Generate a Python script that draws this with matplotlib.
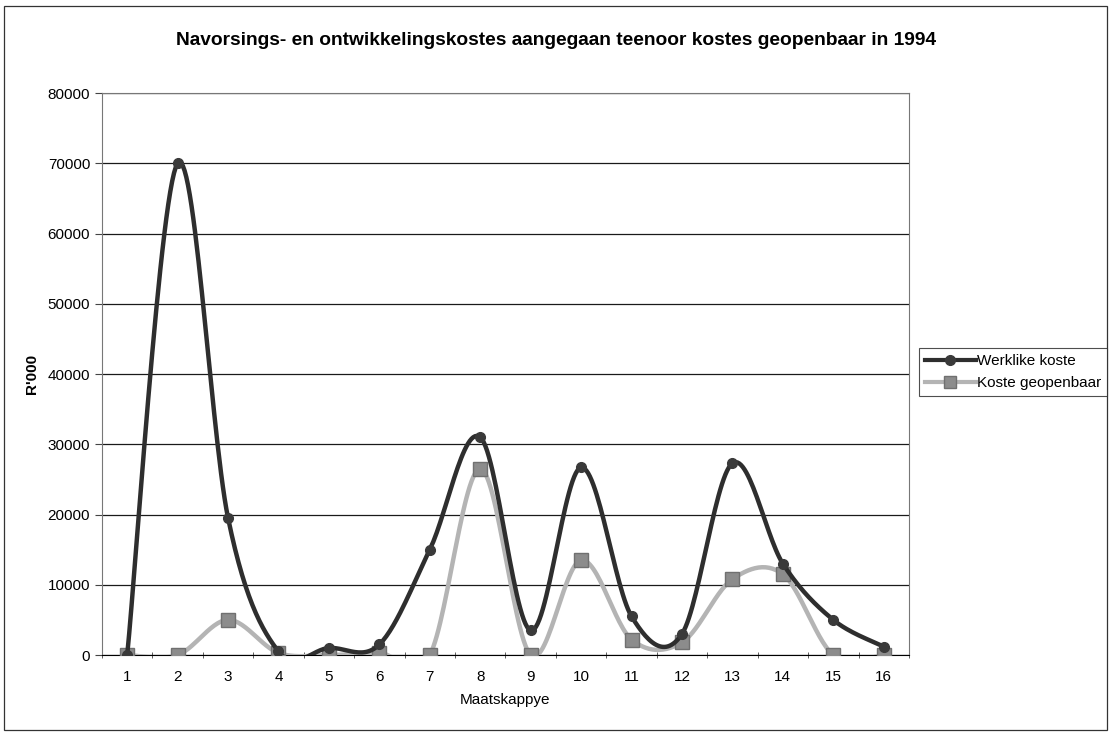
import numpy as np
import matplotlib
matplotlib.use("Agg")
import matplotlib.pyplot as plt
from matplotlib.patches import Rectangle

plt.rcParams['font.family'] = ['Liberation Sans', 'DejaVu Sans']

# data
maatskappye = list(range(1, 17))
werklike_koste = [0, 70000, 19500, 500, 1000, 1500, 15000, 31000,
                  3500, 26700, 5500, 3000, 27300, 13000, 5000, 1200]
koste_geopenbaar = [0, 0, 5000, 300, 0, 300, 0, 26500,
                    0, 13500, 2200, 1800, 10800, 11500, 0, 0]


def smooth(x, y, n=30):
    # Catmull-Rom style smoothing like Excel's smoothed lines
    x = np.asarray(x, float)
    y = np.asarray(y, float)
    px = np.concatenate([[x[0]], x, [x[-1]]])
    py = np.concatenate([[y[0]], y, [y[-1]]])
    xs, ys = [], []
    t = np.linspace(0, 1, n)
    for i in range(1, len(px) - 2):
        p0, p1, p2, p3 = py[i - 1], py[i], py[i + 1], py[i + 2]
        q0, q1, q2, q3 = px[i - 1], px[i], px[i + 1], px[i + 2]
        # bezier control points
        c1y = p1 + (p2 - p0) / 6
        c2y = p2 - (p3 - p1) / 6
        c1x = q1 + (q2 - q0) / 6
        c2x = q2 - (q3 - q1) / 6
        bx = (1 - t) ** 3 * q1 + 3 * (1 - t) ** 2 * t * c1x + 3 * (1 - t) * t ** 2 * c2x + t ** 3 * q2
        by = (1 - t) ** 3 * p1 + 3 * (1 - t) ** 2 * t * c1y + 3 * (1 - t) * t ** 2 * c2y + t ** 3 * p2
        xs.extend(bx)
        ys.extend(by)
    return np.array(xs), np.array(ys)


fig = plt.figure(figsize=(11.12, 7.33), dpi=100)
ax = fig.add_axes([0.0917, 0.1064, 0.7257, 0.7667])

# outer chart border
fig.patches.append(Rectangle((0.0036, 0.004), 0.992, 0.988, transform=fig.transFigure,
                             fill=False, edgecolor='#333333', linewidth=0.9))

ax.set_ylim(0, 80000)
ax.set_xlim(0.5, 16.5)
ax.set_yticks(range(0, 80001, 10000))
ax.yaxis.grid(True, color='#1a1a1a', linewidth=0.9)
ax.set_axisbelow(True)

sx, sy = smooth(maatskappye, koste_geopenbaar)
ax.plot(sx, sy, color='#b4b4b4', linewidth=3.2, solid_capstyle='round', zorder=3)
ax.plot(maatskappye, koste_geopenbaar, linestyle='none', marker='s', markersize=10,
        markerfacecolor='#8c8c8c', markeredgecolor='#707070', zorder=4)

sx, sy = smooth(maatskappye, werklike_koste)
ax.plot(sx, sy, color='#2e2e2e', linewidth=3.2, solid_capstyle='round', zorder=5)
ax.plot(maatskappye, werklike_koste, linestyle='none', marker='o', markersize=7,
        markerfacecolor='#3a3a3a', markeredgecolor='#3a3a3a', zorder=6)

# legend proxies
h1, = ax.plot([], [], color='#2e2e2e', linewidth=3, marker='o', markersize=7,
              markerfacecolor='#3a3a3a', markeredgecolor='#3a3a3a')
h2, = ax.plot([], [], color='#b4b4b4', linewidth=3, marker='s', markersize=8,
              markerfacecolor='#8c8c8c', markeredgecolor='#707070')
leg = fig.legend([h1, h2], ['Werklike koste', 'Koste geopenbaar'],
                 loc='upper left', bbox_to_anchor=(0.8265, 0.525), fontsize=11,
                 frameon=True, fancybox=False, edgecolor='#222222', handlelength=3.3,
                 handletextpad=0.1, borderpad=0.4, labelspacing=0.5, borderaxespad=0)
leg.get_frame().set_linewidth(0.8)

ax.set_xticks(maatskappye)
ax.set_xticklabels([str(m) for m in maatskappye])
ax.set_xticks(np.arange(0.5, 17, 1), minor=True)
ax.tick_params(axis='x', which='major', length=0, labelsize=11, pad=11)
ax.tick_params(axis='x', which='minor', length=5, direction='inout', color='#444')
ax.tick_params(axis='y', length=5, direction='out', labelsize=11, color='#444')

for s in ax.spines.values():
    s.set_color('#777')
    s.set_linewidth(0.8)
ax.spines['bottom'].set_color('black')

ax.set_xlabel('Maatskappye', fontsize=11, labelpad=6)
ax.set_ylabel("R'000", fontsize=11, fontweight='bold', labelpad=6)
fig.text(0.5, 0.945, 'Navorsings- en ontwikkelingskostes aangegaan teenoor kostes geopenbaar in 1994',
         ha='center', va='center', fontsize=13.8, fontweight='bold')

fig.savefig('out.png', dpi=100)
